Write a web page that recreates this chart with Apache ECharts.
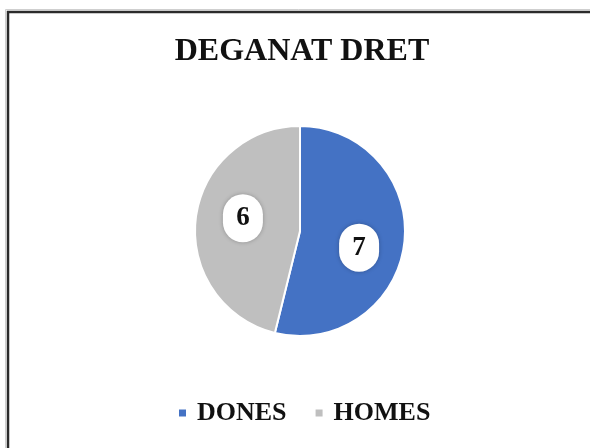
<!DOCTYPE html>
<html>
<head>
<meta charset="utf-8">
<script src="https://cdn.jsdelivr.net/npm/echarts@6/dist/echarts.min.js"></script>
<style>
html,body{margin:0;padding:0;background:#fff;}
#chart{width:590px;height:448px;}
</style>
</head>
<body>
<div id="chart"></div>
<script>
const titleText = "DEGANAT DRET";
const categories = ["DONES", "HOMES"];
const values = [7, 6];
const colors = ["#4472C4", "#BFBFBF"];
const labelOffsets = [[4, 10], [-2, -6]];

const chart = echarts.init(document.getElementById('chart'), null, {renderer: 'canvas'});
const fontFam = '"Liberation Serif", "DejaVu Serif", serif';

chart.setOption({
  animation: false,
  backgroundColor: '#ffffff',
  title: {
    text: titleText,
    left: 297,
    textAlign: 'center',
    top: 31,
    textStyle: {fontFamily: fontFam, fontWeight: 'bold', fontSize: 32, color: '#111'}
  },
  legend: {
    data: categories,
    bottom: 17,
    left: 172,
    icon: 'rect',
    itemWidth: 9,
    itemHeight: 9,
    itemGap: 27,
    textStyle: {fontFamily: fontFam, fontWeight: 'bold', fontSize: 26, color: '#111', padding: [0, 0, 0, 5]}
  },
  graphic: [
    {type: 'rect', silent: true, z: 100,
     shape: {x: 5.5, y: 9.5, width: 800, height: 800},
     style: {fill: 'none', stroke: '#cfcfcf', lineWidth: 1}},
    {type: 'rect', silent: true, z: 100,
     shape: {x: 8, y: 12, width: 800, height: 800},
     style: {fill: 'none', stroke: '#2b2b2b', lineWidth: 2.5}}
  ],
  series: [{
    type: 'pie',
    center: [300, 231],
    radius: 105,
    startAngle: 90,
    clockwise: true,
    avoidLabelOverlap: false,
    itemStyle: {borderColor: '#ffffff', borderWidth: 2},
    labelLine: {show: false},
    emphasis: {disabled: true},
    data: categories.map((c, i) => ({
      name: c,
      value: values[i],
      itemStyle: {color: colors[i]},
      label: {offset: labelOffsets[i]}
    })),
    label: {
      show: true,
      position: 'inside',
      formatter: '{c}',
      fontFamily: fontFam,
      fontWeight: 'bold',
      fontSize: 27,
      color: '#111',
      backgroundColor: '#ffffff',
      width: 40,
      height: 48,
      lineHeight: 48,
      align: 'center',
      borderRadius: 22,
      shadowColor: 'rgba(0,0,0,0.25)',
      shadowBlur: 4
    }
  }]
});
</script>
</body>
</html>
